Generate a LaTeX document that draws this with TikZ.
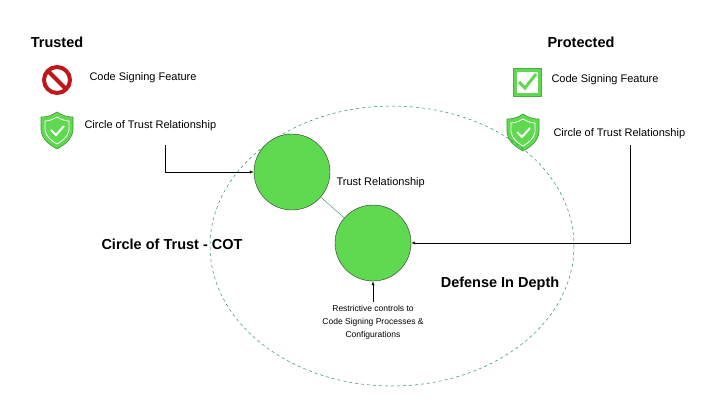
\documentclass[tikz,border=0pt]{standalone}
\usepackage{fontspec}
\setmainfont{Liberation Sans}
\usetikzlibrary{positioning}
\definecolor{cgreen}{HTML}{5FD94F}
\definecolor{cred}{HTML}{C0161B}
\definecolor{cteal}{HTML}{2E8B6E}
\begin{document}
\begin{tikzpicture}[x=1pt,y=-1pt,
  head/.style={font=\bfseries\fontsize{14.5}{17}\selectfont},
  lbl/.style={font=\fontsize{11}{13}\selectfont,anchor=west},
  ball/.style={circle,draw=black!80,fill=cgreen,minimum size=76pt,inner sep=0pt},
  link/.style={->,>=latex}]
\useasboundingbox (0,0) rectangle (720,405);
% shield macro
\newcommand\shieldicon[1]{%
  \draw[fill=cgreen,draw=cgreen!70!black,line width=0.6pt,shift={#1}]
    (0,-18) .. controls (6,-14) and (11,-13) .. (16,-13) -- (16,0)
    .. controls (15,10) and (7,15) .. (0,19) .. controls (-7,15) and (-15,10) .. (-16,0)
    -- (-16,-13) .. controls (-11,-13) and (-6,-14) .. (0,-18) -- cycle;
  \draw[white,line width=0.8pt,shift={#1}]
    (0,-13) .. controls (5,-10) and (9,-9) .. (12,-9) -- (12,0)
    .. controls (11,7) and (5,11) .. (0,14) .. controls (-5,11) and (-11,7) .. (-12,0)
    -- (-12,-9) .. controls (-9,-9) and (-5,-10) .. (0,-13) -- cycle;
  \draw[white,line width=2pt,shift={#1}] (-6,0) -- (-1,5) -- (7,-4);}

% left legend
\node[head] (trusted) at (57,42) {Trusted};
\draw[cred,line width=4pt] (57,80) circle (13);
\draw[cred,line width=4pt] (48,71) -- (66,89);
\node[lbl] (csf1) at (86,78) {Code Signing Feature};
\shieldicon{(57,130)}
\node[lbl] (cot1) at (81,126) {Circle of Trust Relationship};

% right legend
\node[head] (prot) at (581,42) {Protected};
\node[draw=cgreen!80!black,fill=cgreen,minimum size=28pt,inner sep=0pt] (box) at (527,82) {};
\draw[white,fill=white] (517,72) rectangle (537,92);
\draw[cgreen,line width=3pt] (519,82) -- (525,88) -- (536,74);
\node[lbl] (csf2) at (548,80) {Code Signing Feature};
\shieldicon{(523,132)}
\node[lbl] (cot2) at (550,134) {Circle of Trust Relationship};

% circle of trust
\draw[cteal,dashed,line width=0.5pt] (392,246) ellipse (182 and 140);
\node[ball] (inner) at (292,172) {};
\node[ball] (outer) at (373,243) {};
\draw[cteal] (inner) -- (outer);
\node[lbl] (trel) at (333,183) {Trust Relationship};
\node[head] (cot) at (172,244) {Circle of Trust - COT};
\node[head] (did) at (500,284) {Defense In Depth};
\node[align=center,font=\fontsize{8.5}{13}\selectfont] (ctrl) at (373,322)
  {Restrictive controls to\\Code Signing Processes \&\\Configurations};

% connectors
\coordinate (a1) at (165,145);
\coordinate (a2) at (630,145);
\draw[link] (a1) |- (inner.west);
\draw[link] (a2) |- (outer.east);
\draw[link] (ctrl.north) -- (outer.south);
\end{tikzpicture}
\end{document}
